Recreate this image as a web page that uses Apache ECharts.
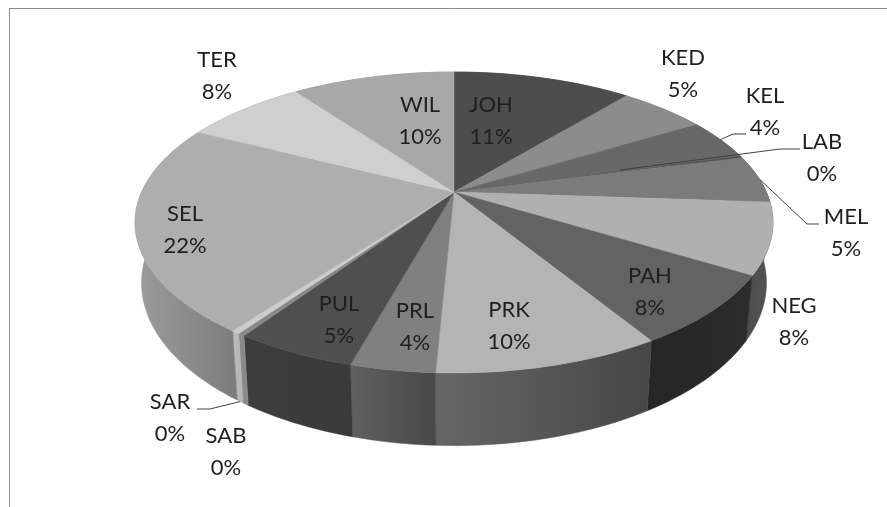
<!DOCTYPE html>
<html>
<head>
<meta charset="utf-8">
<style>html,body{margin:0;padding:0;background:#fff}#chart{width:887px;height:507px}</style>
<script src="https://cdn.jsdelivr.net/npm/echarts@6/dist/echarts.min.js"></script>
</head>
<body>
<div id="chart"></div>
<script>
// ECharts has no 3D pie without echarts-gl, so the slices are a custom series
const states = ['JOH','KED','KEL','LAB','MEL','NEG','PAH','PRK','PRL','PUL','SAB','SAR','SEL','TER','WIL']
const shares = [11, 5.4, 4.4, 0.2, 5.1, 7.6, 7.55, 9.5, 3.55, 5.15, 0.3, 0.35, 22.35, 7.55, 10]
const topColors = ['#4d4d4d','#8c8c8c','#686868','#555555','#7b7b7b','#b0b0b0','#636363','#b4b4b4','#808080','#4f4f4f','#888888','#cccccc','#aeaeae','#cfcfcf','#a8a8a8']
// left and right grey of each slice's outer wall
const wallColors = [['#444','#444'],['#777','#777'],['#555','#555'],['#444','#444'],['#666','#666'],['#4c4c4c','#555555'],['#262626','#2c2c2c'],['#666666','#464646'],['#606060','#484848'],['#3d3d3d','#3a3a3a'],['#8a8a8a','#8a8a8a'],['#bcbcbc','#b4b4b4'],['#9c9c9c','#7c7c7c'],['#999','#999'],['#888','#888']]
// label centre x, first line y
const labelPos = [[491,105],[683,58],[765,96],[822,142],[846,217],[794,306],[650,276],[509,310],[415,311],[339,304],[226,436],[170,402],[185,214],[217,60],[420,105]]
// leader lines: slice index -> bend and end of line
const leaders = {2:[[733,134],[746,134]],3:[[780,149],[800,149]],4:[[807,224],[819,224]],11:[[210,409],[197,409]]}

const total = shares.reduce((a,b) => a + b)
const cx = 454, k = 0.2026
const topDisc = {cy:192, rx:312.4, ry:144.3}
const bottomDisc = {cy:250, rx:306, ry:156}

function project(disc, deg) {
  const t = deg * Math.PI / 180
  const u = Math.sin(t), v = -Math.cos(t)
  const s = 1 / (1 - k * v)
  return [cx + disc.rx * u * s, disc.cy + disc.ry * v * s]
}
function rim(disc, from, to) {
  const pts = []
  const n = Math.max(2, Math.ceil((to - from) / 1.5))
  for (let j = 0; j <= n; j++) pts.push(project(disc, from + (to - from) * j / n))
  return pts
}

function renderSlice(params) {
  const i = params.dataIndex
  const before = shares.slice(0, i).reduce((a,b) => a + b, 0)
  const from = before / total * 360
  const to = (before + shares[i]) / total * 360
  const top = rim(topDisc, from, to)
  const low = rim(bottomDisc, from, to).reverse()
  const wc = wallColors[i]
  const wallFill = new echarts.graphic.LinearGradient(0,0,1,0,[{offset:0,color:wc[0]},{offset:1,color:wc[1]}])
  const children = [
    {type:'polygon', z2:1, shape:{points:top.concat(low)}, style:{fill:wallFill, stroke:wallFill, lineWidth:0.5}},
    {type:'polygon', z2:2, shape:{points:[[cx,topDisc.cy]].concat(top)}, style:{fill:topColors[i], stroke:topColors[i], lineWidth:0.5}}
  ]
  if (leaders[i]) {
    const mid = (from + to) / 2
    let start = project(topDisc, mid)
    if (i === 3) start = [620,170] // LAB line starts inside the slice
    if (i === 11) start = project(bottomDisc, mid) // SAR line starts on the lower rim
    children.push({type:'polyline', z2:3, shape:{points:[start].concat(leaders[i])}, style:{fill:null, stroke:'#404040', lineWidth:1}})
  }
  const pos = labelPos[i]
  children.push({type:'text', z2:4, style:{x:pos[0], y:pos[1], text:states[i], fill:'#1f1f1f', font:'22px Lato', align:'center', verticalAlign:'middle'}})
  children.push({type:'text', z2:4, style:{x:pos[0], y:pos[1] + 32, text:Math.round(shares[i]) + '%', fill:'#1f1f1f', font:'22px Lato', align:'center', verticalAlign:'middle'}})
  return {type:'group', children}
}

const chart = echarts.init(document.getElementById('chart'))
chart.setOption({
  animation:false,
  backgroundColor:'#fff',
  graphic:[{type:'polyline', silent:true, shape:{points:[[9.5,507],[9.5,8.5],[887,8.5]]}, style:{fill:null, stroke:'#8c8c8c', lineWidth:1}}],
  series:[{type:'custom', coordinateSystem:'none', data:states.map((s,i) => [i, shares[i]]), renderItem:renderSlice}]
})
</script>
</body>
</html>
